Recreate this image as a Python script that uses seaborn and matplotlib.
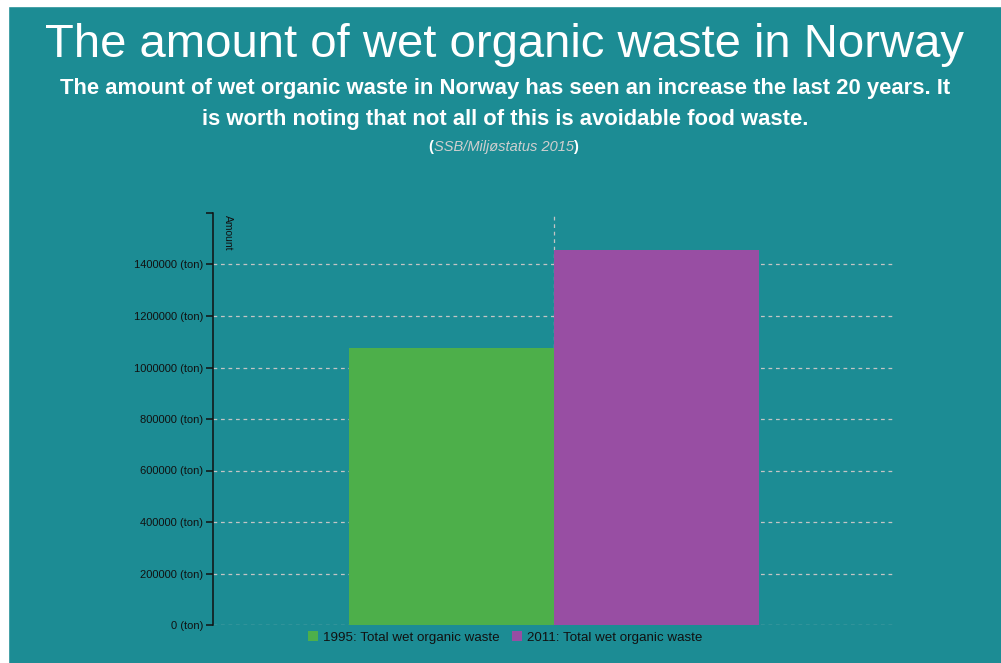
import matplotlib
matplotlib.use("Agg")
import matplotlib.pyplot as plt
from matplotlib.patches import Rectangle
from matplotlib.ticker import FuncFormatter
import seaborn as sns
import pandas as pd

# data
years = ["1995", "2011"]
category = ["Total wet organic waste", "Total wet organic waste"]
amounts = [1075000, 1456000]
series_labels = [f"{y}: Total wet organic waste" for y in years]
yticks = [0, 200000, 400000, 600000, 800000, 1000000, 1200000, 1400000]

BG = "#1c8c94"
COLORS = ["#4daf4a", "#984ea3"]

df = pd.DataFrame({"category": category, "amount": amounts, "series": series_labels})

sns.set_theme(style="white")
plt.rcParams["font.family"] = ["Liberation Sans", "DejaVu Sans"]

fig = plt.figure(figsize=(10.01, 6.63), dpi=100, facecolor=BG, edgecolor=BG)
# white strip on the left/top edge of the screenshot
fig.patches.append(Rectangle((0, 0), 8 / 1001, 1, transform=fig.transFigure, color="white", zorder=0))
fig.patches.append(Rectangle((0, 1 - 6 / 663), 1, 6 / 663, transform=fig.transFigure, color="white", zorder=0))

ax = fig.add_axes([213 / 1001, 1 - 625 / 663, (895 - 213) / 1001, (625 - 213) / 663])
ax.set_facecolor(BG)

sns.barplot(data=df, x="category", y="amount", hue="series", palette=COLORS,
            width=0.6, saturation=1, dodge=True, ax=ax, zorder=3,
            linewidth=0, edgecolor="none")

ax.set_xlim(-0.5, 0.5)
ax.set_ylim(0, 1600000)
ax.set_yticks(yticks)
ax.set_yticks([1600000], minor=True)
ax.yaxis.set_major_formatter(FuncFormatter(lambda v, p: f"{int(v)} (ton)"))
ax.tick_params(axis="y", which="both", direction="out", length=5, width=1.1,
               color="#111111", labelsize=8, labelcolor="#111111", left=True, pad=2)
ax.tick_params(axis="x", bottom=False, labelbottom=False)
ax.set_xlabel("")
ax.set_ylabel("")

for s in ["top", "right", "bottom"]:
    ax.spines[s].set_visible(False)
ax.spines["left"].set_color("#111111")
ax.spines["left"].set_linewidth(1.1)

ax.set_axisbelow(True)
ax.grid(True, axis="both", which="major", color="#c4c4c4", linestyle=(0, (3, 3)), linewidth=0.9)

ax.text(0.015, 0.995, "Amount", transform=ax.transAxes, rotation=-90,
        ha="left", va="top", fontsize=7.5, color="#111111")

sns.move_legend(ax, "center", bbox_to_anchor=(0.428, -0.03), ncol=2, frameon=False,
                title=None, fontsize=9.6, handlelength=0.75, handleheight=0.75,
                handletextpad=0.4, columnspacing=0.9, labelcolor="#111111")

# titles
fig.text(0.504, 1 - 45 / 663, "The amount of wet organic waste in Norway",
         ha="center", va="center", fontsize=34, color="white")
fig.text(0.505, 1 - 104 / 663,
         "The amount of wet organic waste in Norway has seen an increase the last 20 years. It\n"
         "is worth noting that not all of this is avoidable food waste.",
         ha="center", va="center", fontsize=15.8, fontweight="bold", color="white",
         linespacing=1.62)
src = fig.text(0.503, 1 - 147 / 663, "SSB/Miljøstatus 2015", ha="center", va="center",
               fontsize=10.5, style="italic", color="#cfcfcf")
ax.annotate("(", xy=(0, 0.5), xycoords=src, ha="right", va="center", fontsize=10.5,
            fontweight="bold", color="white", annotation_clip=False)
ax.annotate(")", xy=(1, 0.5), xycoords=src, ha="left", va="center", fontsize=10.5,
            fontweight="bold", color="white", annotation_clip=False)

fig.savefig("out.png", dpi=100, facecolor=BG, edgecolor=BG)
